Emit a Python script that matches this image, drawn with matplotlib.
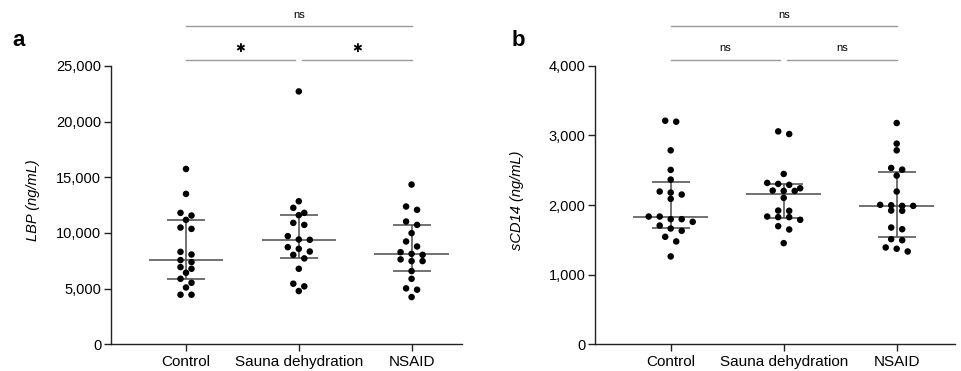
import numpy as np
import matplotlib
matplotlib.use('Agg')
import matplotlib.pyplot as plt
from matplotlib.transforms import blended_transform_factory
from matplotlib.ticker import FuncFormatter

plt.rcParams['font.family'] = ['Liberation Sans', 'DejaVu Sans']

groups = ['Control', 'Sauna dehydration', 'NSAID']

# ---- Panel a: LBP (ng/mL) ----
lbp_control = [15740, 13500, 11800, 11560, 11170, 10480, 10360, 8300, 8060,
               7560, 7380, 6930, 6780, 6420, 5880, 5520, 5100, 4450, 4450]
lbp_sauna = [22700, 12840, 12250, 11800, 11590, 10900, 10720, 9710, 9410,
             9380, 8720, 8570, 8330, 8030, 7710, 6780, 5440, 5200, 4780]
lbp_nsaid = [14340, 12370, 12070, 11020, 10720, 9980, 9230, 8780, 8270,
             8120, 8030, 7620, 7470, 7470, 6570, 5880, 5020, 4900, 4240]
lbp_median = [7560, 9380, 8120]
lbp_q1 = [5880, 7710, 6570]
lbp_q3 = [11170, 11590, 10720]
lbp_ticks = [0, 5000, 10000, 15000, 20000, 25000]
lbp_sig = ['*', '*', 'ns']      # Control-Sauna, Sauna-NSAID, Control-NSAID

# ---- Panel b: sCD14 (ng/mL) ----
scd_control = [3211, 3197, 2786, 2505, 2366, 2194, 2179, 2151, 2089, 1835,
               1835, 1797, 1797, 1759, 1706, 1663, 1630, 1544, 1477, 1262]
scd_sauna = [3058, 3020, 2447, 2318, 2304, 2290, 2241, 2208, 2203, 2203,
             2103, 1921, 1917, 1835, 1826, 1826, 1788, 1696, 1649, 1453]
scd_nsaid = [3178, 2882, 2786, 2533, 2509, 2423, 2194, 2003, 1997, 1988,
             1988, 1921, 1917, 1677, 1653, 1510, 1495, 1391, 1372, 1333]
scd_median = [1835, 2153, 1988]
scd_q1 = [1677, 1821, 1548]
scd_q3 = [2327, 2299, 2480]
scd_ticks = [0, 1000, 2000, 3000, 4000]
scd_sig = ['ns', 'ns', 'ns']

W, H = 961, 371
fig = plt.figure(figsize=(W / 100, H / 100), dpi=100)

bottom = (H - 344.3) / H
height = 278.5 / H
ax_a = fig.add_axes([111 / W, bottom, 351 / W, height])
ax_b = fig.add_axes([595 / W, bottom, 360 / W, height])

LINE_C = '#4a4a4a'
SIG_C = '#9a9a9a'


def swarm_x(ax, xc, values, dot_px=5.6, step_px=11.0):
    vals = np.asarray(values, float)
    pts = np.column_stack([np.full(len(vals), xc), vals])
    pix = ax.transData.transform(pts)[:, 1]
    order = np.argsort(-vals, kind='stable')
    rows = []
    for i in order:
        if rows and abs(pix[i] - pix[rows[-1][0]]) < dot_px:
            rows[-1].append(i)
        else:
            rows.append([i])
    off = np.zeros(len(vals))
    for row in rows:
        n = len(row)
        for k, i in enumerate(row):
            off[i] = (k - (n - 1) / 2) * step_px
    x0 = ax.transData.transform((xc, 0))[0]
    back = ax.transData.inverted().transform(
        np.column_stack([x0 + off, np.zeros(len(vals))]))
    return back[:, 0]


def panel(ax, data, med, q1, q3, ticks, ylabel, sig, xlim, label_x):
    ax.set_xlim(*xlim)
    ax.set_ylim(ticks[0], ticks[-1])
    for side in ['top', 'right']:
        ax.spines[side].set_visible(False)
    for side in ['left', 'bottom']:
        ax.spines[side].set_linewidth(1.0)
        ax.spines[side].set_color('#222222')
    ax.set_yticks(ticks)
    ax.yaxis.set_major_formatter(FuncFormatter(lambda v, p: f'{int(v):,}'))
    ax.set_xticks(range(len(groups)))
    ax.set_xticklabels(groups)
    ax.tick_params(axis='y', length=5, width=1.0, labelsize=10.5, pad=2,
                   colors='#222222', labelcolor='black')
    ax.tick_params(axis='x', length=5, width=1.0, labelsize=11, pad=3,
                   colors='#222222', labelcolor='black')

    for i, vals in enumerate(data):
        ax.hlines(med[i], i - 0.33, i + 0.33, color=LINE_C, lw=1.1, zorder=2)
        ax.hlines([q1[i], q3[i]], i - 0.168, i + 0.168, color=LINE_C, lw=1.1, zorder=2)
        ax.vlines(i, q1[i], q3[i], color=LINE_C, lw=1.1, zorder=2)
        xs = swarm_x(ax, i, vals)
        ax.scatter(xs, vals, s=22, color='black', edgecolors='none', zorder=3,
                   clip_on=False)

    tr = blended_transform_factory(ax.transData, ax.transAxes)
    y_low, y_top = 1.0198, 1.143
    ax.plot([0, 0.966], [y_low, y_low], color=SIG_C, lw=1.0, transform=tr, clip_on=False)
    ax.plot([1.028, 2], [y_low, y_low], color=SIG_C, lw=1.0, transform=tr, clip_on=False)
    ax.plot([0, 2], [y_top, y_top], color=SIG_C, lw=1.0, transform=tr, clip_on=False)
    centers = [(0 + 0.966) / 2, (1.028 + 2) / 2]
    for c, s in zip(centers, sig[:2]):
        if s == '*':
            ax.text(c, 1.062, '\u2731', transform=tr, ha='center', va='center',
                    fontsize=8.5, family=['DejaVu Sans'], color='black')
        else:
            ax.text(c, 1.063, s, transform=tr, ha='center', va='center', fontsize=8)
    ax.text(1, 1.183, sig[2], transform=tr, ha='center', va='center', fontsize=8)

    fig.text(label_x / W, (H - 200) / H, ylabel, rotation=90, ha='center',
             va='center', fontsize=10.5, style='italic')


panel(ax_a, [lbp_control, lbp_sauna, lbp_nsaid], lbp_median, lbp_q1, lbp_q3,
      lbp_ticks, 'LBP (ng/mL)', lbp_sig, (-0.665, 2.447), 33)
panel(ax_b, [scd_control, scd_sauna, scd_nsaid], scd_median, scd_q1, scd_q3,
      scd_ticks, 'sCD14 (ng/mL)', scd_sig, (-0.67, 2.516), 517)

fig.text(19 / W, (H - 40) / H, 'a', fontsize=16, weight='bold', ha='center', va='center')
fig.text(518 / W, (H - 40) / H, 'b', fontsize=16, weight='bold', ha='center', va='center')

fig.savefig('out.png', dpi=100)
